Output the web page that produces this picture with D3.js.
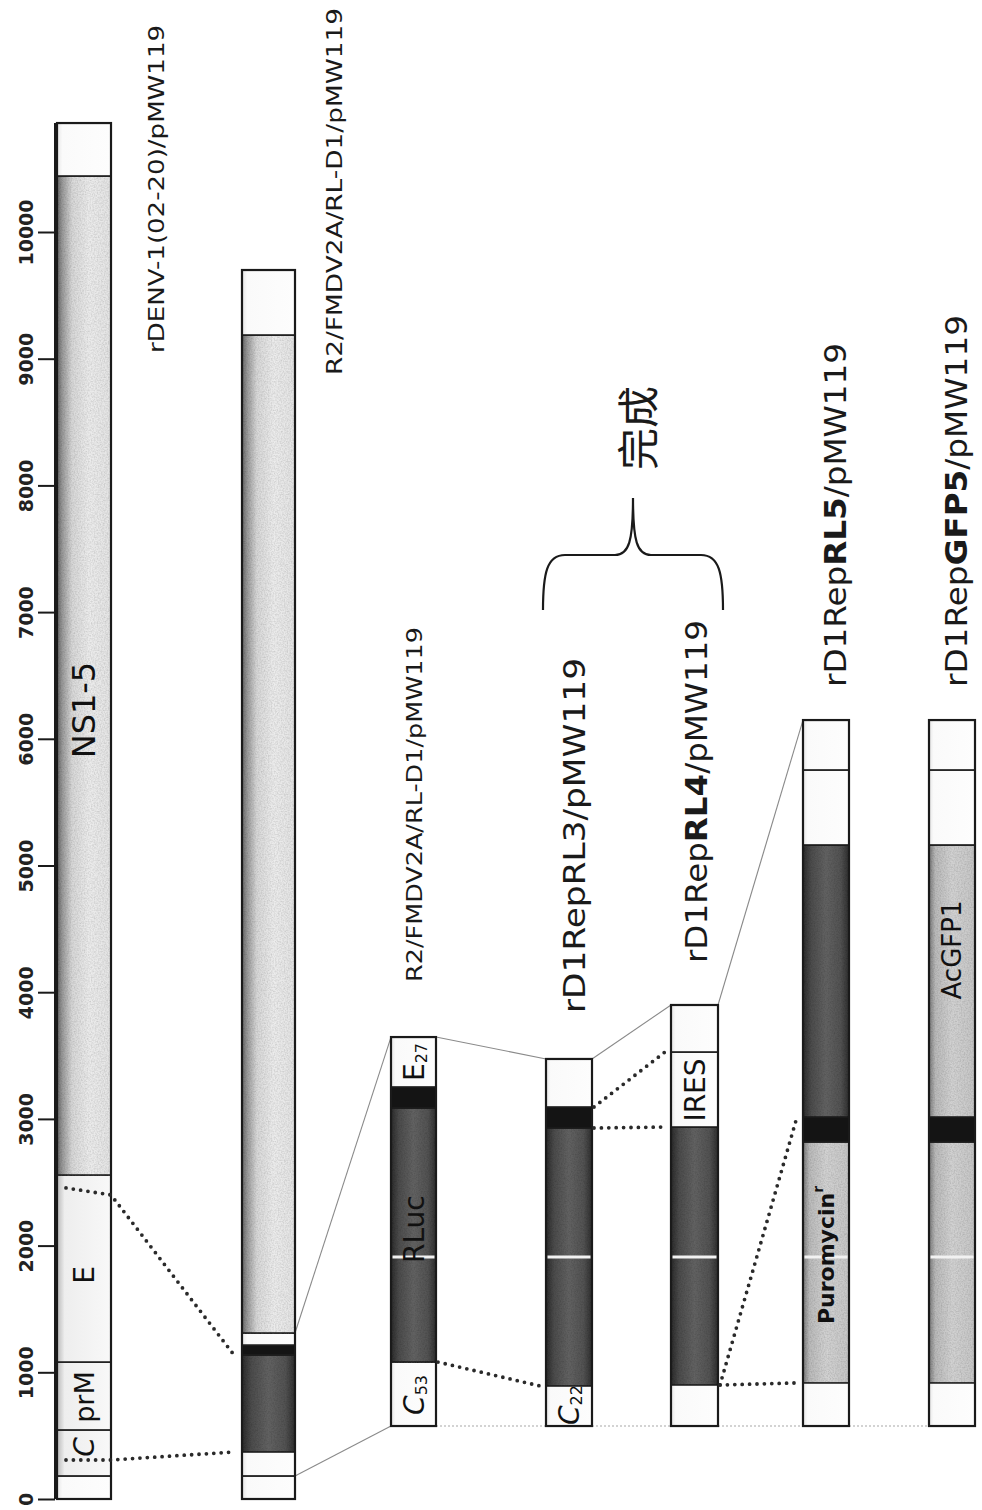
<!DOCTYPE html>
<html>
<head>
<meta charset="utf-8">
<script src="https://cdn.jsdelivr.net/npm/d3@7"></script>
<style>
  body { margin: 0; background: #fff; }
</style>
</head>
<body>
<svg id="chart" width="982" height="1510"></svg>
<script>
// genome coordinate ticks (nt)
const ticks = d3.range(0, 10001, 1000);

// constructs, left to right
const constructs = ["denv", "r2", "r2b", "rl3", "rl4", "rl5", "gfp5"];
const constructNames = [
  "rDENV-1(02-20)/pMW119",
  "R2/FMDV2A/RL-D1/pMW119",
  "R2/FMDV2A/RL-D1/pMW119",
  "rD1RepRL3/pMW119",
  "rD1RepRL4/pMW119",
  "rD1RepRL5/pMW119",
  "rD1RepGFP5/pMW119"
];
const boldParts = ["", "", "", "", "RL4", "RL5", "GFP5"];

// segment boundaries (nt) and the kind of each segment, bottom -> top
const denvBounds = [0, 182, 545, 1081, 2557, 10442, 10860];
const denvParts  = ["white", "light", "light", "light", "ns", "white"];
const r2Bounds   = [0, 182, 371, 1137, 1215, 1310, 9187, 9700];
const r2Parts    = ["white", "white", "dark", "black", "white", "ns", "white"];
const r2bBounds  = [576, 1081, 3086, 3252, 3646];
const r2bParts   = ["white", "dark", "black", "white"];
const rl3Bounds  = [576, 892, 2928, 3094, 3473];
const rl3Parts   = ["white", "dark", "black", "white"];
const rl4Bounds  = [576, 900, 2936, 3528, 3899];
const rl4Parts   = ["white", "dark", "white", "white"];
const rl5Bounds  = [576, 916, 2818, 3015, 5162, 5754, 6148];
const rl5Parts   = ["white", "gray", "black", "dark", "white", "white"];
const gfp5Bounds = [576, 916, 2818, 3015, 5162, 5754, 6148];
const gfp5Parts  = ["white", "gray", "black", "gray", "white", "white"];

// text inside the bars: construct, position (nt), text, subscript
const innerLabels = [
  ["denv", 6227, "NS1-5", ""],
  ["denv", 1768, "E", ""],
  ["denv", 805, "prM", ""],
  ["denv", 410, "C", ""],
  ["r2b", 3449, "E", "27"],
  ["r2b", 2130, "RLuc", ""],
  ["r2b", 821, "C", "53"],
  ["rl3", 742, "C", "22"],
  ["rl4", 3228, "IRES", ""],
  ["rl5", 1926, "Puromycin", "r"],
  ["gfp5", 4333, "AcGFP1", ""]
];

// white seams across the reporter bars (nt)
const seamAt = 1910;
const seamBars = ["r2b", "rl3", "rl4", "rl5", "gfp5"];

// links between bars: [from, nt, to, nt]
const thinLinks = [
  ["r2", 1310, "r2b", 3646],
  ["r2", 182, "r2b", 576],
  ["r2b", 3646, "rl3", 3473],
  ["rl3", 3473, "rl4", 3899],
  ["rl4", 3899, "rl5", 6148]
];
const baseLinks = [
  ["r2b", 576, "rl3", 576],
  ["rl3", 576, "rl4", 576],
  ["rl4", 576, "rl5", 576],
  ["rl5", 576, "gfp5", 576]
];
const dotLinks = [
  ["r2b", 1081, "rl3", 892],
  ["rl3", 3094, "rl4", 3528],
  ["rl3", 2928, "rl4", 2936],
  ["rl4", 900, "rl5", 3015],
  ["rl4", 900, "rl5", 916]
];
// dotted lines starting inside the DENV bar: [inside nt, edge nt, r2 nt]
const denvLinks = [
  [2455, 2400, 1137],
  [308, 308, 371]
];

const boundsOf = {denv: denvBounds, r2: r2Bounds, r2b: r2bBounds, rl3: rl3Bounds,
                  rl4: rl4Bounds, rl5: rl5Bounds, gfp5: gfp5Bounds};
const partsOf  = {denv: denvParts, r2: r2Parts, r2b: r2bParts, rl3: rl3Parts,
                  rl4: rl4Parts, rl5: rl5Parts, gfp5: gfp5Parts};

const svg = d3.select("#chart");

const y = d3.scaleLinear().domain([0, 10000]).range([1499, 232]);
const colX = d3.scaleOrdinal().domain(constructs).range([57, 242, 391, 546, 671, 803, 929]);
const colW = d3.scaleOrdinal().domain(constructs).range([54, 53, 45, 46, 47, 46, 46]);

// fills
const defs = svg.append("defs");
function grad(id, stops){
  const g = defs.append("linearGradient").attr("id", id)
    .attr("x1", 0).attr("x2", 1).attr("y1", 0).attr("y2", 0);
  stops.forEach(s => g.append("stop").attr("offset", s[0]).attr("stop-color", s[1]));
}
grad("g-ns",    [[0, "#666666"], [0.1, "#9a9a9a"], [0.28, "#d8d8d8"], [0.6, "#ececec"], [1, "#e4e4e4"]]);
grad("g-light", [[0, "#b8b8b8"], [0.14, "#eeeeee"], [1, "#f8f8f8"]]);
grad("g-white", [[0, "#e6e6e6"], [0.1, "#fafafa"], [1, "#fdfdfd"]]);
grad("g-dark",  [[0, "#2a2a2a"], [0.18, "#4c4c4c"], [0.5, "#626262"], [0.82, "#525252"], [1, "#2e2e2e"]]);
grad("g-gray",  [[0, "#7a7a7a"], [0.14, "#bababa"], [0.5, "#d2d2d2"], [1, "#c6c6c6"]]);
const fillOf = {ns: "url(#g-ns)", light: "url(#g-light)", white: "url(#g-white)",
                dark: "url(#g-dark)", gray: "url(#g-gray)", black: "#141414"};

// grain
const f = defs.append("filter").attr("id", "grain").attr("x", 0).attr("y", 0)
  .attr("width", 1).attr("height", 1);
f.append("feTurbulence").attr("type", "fractalNoise").attr("baseFrequency", 0.7)
  .attr("numOctaves", 2).attr("seed", 3).attr("result", "n");
f.append("feColorMatrix").attr("in", "n").attr("type", "matrix")
  .attr("values", "0 0 0 0 0.45  0 0 0 0 0.45  0 0 0 0 0.45  0.9 0 0 0 -0.3").attr("result", "na");
f.append("feComposite").attr("in", "na").attr("in2", "SourceGraphic").attr("operator", "in").attr("result", "nc");
f.append("feBlend").attr("in", "nc").attr("in2", "SourceGraphic").attr("mode", "multiply");

// axis
const axis = d3.axisLeft(y).tickValues(ticks).tickSize(17).tickSizeOuter(0).tickFormat(d3.format("d"));
const gAxis = svg.append("g").attr("transform", "translate(55,0)").call(axis);
gAxis.select(".domain").remove();
gAxis.append("line").attr("y1", y(0)).attr("y2", y(denvBounds[denvBounds.length - 1]))
  .attr("stroke", "#1a1a1a").attr("stroke-width", 2);
gAxis.selectAll(".tick line").attr("stroke", "#1a1a1a").attr("stroke-width", 2);
gAxis.selectAll(".tick text")
  .attr("transform", "rotate(-90)")
  .attr("x", 0).attr("y", -22).attr("dy", 0)
  .attr("text-anchor", "middle")
  .attr("fill", "#222")
  .style("font-family", "DejaVu Sans")
  .style("font-size", "19px")
  .style("font-weight", "bold");

// thin connector lines (drawn under the bars)
const gLinks = svg.append("g");
gLinks.selectAll("line.thin").data(thinLinks).join("line").attr("class", "thin")
  .attr("x1", d => colX(d[0]) + colW(d[0])).attr("y1", d => y(d[1]))
  .attr("x2", d => colX(d[2])).attr("y2", d => y(d[3]))
  .attr("stroke", "#8a8a8a").attr("stroke-width", 1.1);
gLinks.selectAll("line.base").data(baseLinks).join("line").attr("class", "base")
  .attr("x1", d => colX(d[0]) + colW(d[0])).attr("y1", d => y(d[1]))
  .attr("x2", d => colX(d[2])).attr("y2", d => y(d[3]))
  .attr("stroke", "#a8a8a8").attr("stroke-width", 1.2).attr("stroke-dasharray", "2,2");

// bars
constructs.forEach(c => {
  const b = boundsOf[c], p = partsOf[c];
  const g = svg.append("g").attr("class", "bar " + c);
  g.selectAll("rect.seg").data(p).join("rect").attr("class", "seg")
    .attr("x", colX(c)).attr("width", colW(c))
    .attr("y", (d, i) => y(b[i + 1]))
    .attr("height", (d, i) => y(b[i]) - y(b[i + 1]))
    .attr("fill", d => fillOf[d])
    .attr("filter", d => (d === "dark" || d === "gray" || d === "ns") ? "url(#grain)" : null)
    .attr("stroke", "#1c1c1c").attr("stroke-width", 1.6);
  g.append("rect")
    .attr("x", colX(c)).attr("width", colW(c))
    .attr("y", y(b[b.length - 1])).attr("height", y(b[0]) - y(b[b.length - 1]))
    .attr("fill", "none").attr("stroke", "#1a1a1a").attr("stroke-width", 2.2);
});

// seams
svg.selectAll("rect.seam").data(seamBars).join("rect").attr("class", "seam")
  .attr("x", d => colX(d) + 1.5).attr("width", d => colW(d) - 3)
  .attr("y", y(seamAt) - 1.5).attr("height", 3)
  .attr("fill", "#f2f2f2");

// dotted links
const dotted = sel => sel.attr("fill", "none").attr("stroke", "#2a2a2a")
  .attr("stroke-width", 3.8).attr("stroke-linecap", "round").attr("stroke-dasharray", "0,7.4");
svg.selectAll("path.dl").data(dotLinks).join("path").attr("class", "dl")
  .attr("d", d => d3.line()([[colX(d[0]) + colW(d[0]) + 2, y(d[1])], [colX(d[2]) - 6, y(d[3])]]))
  .call(dotted);
svg.selectAll("path.denvl").data(denvLinks).join("path").attr("class", "denvl")
  .attr("d", d => d3.line()([
    [colX("denv") + 9, y(d[0])],
    [colX("denv") + colW("denv"), y(d[1])],
    [colX("r2") - 8, y(d[2])]
  ]))
  .call(dotted);

// labels inside the bars
const innerSize = {"NS1-5": 32, "E": 28, "prM": 27, "C": 28, "RLuc": 28, "IRES": 28,
                   "Puromycin": 22, "AcGFP1": 26};
const inner = svg.selectAll("text.inner").data(innerLabels).join("text").attr("class", "inner")
  .attr("transform", d => `translate(${colX(d[0]) + colW(d[0]) / 2},${y(d[1])}) rotate(-90)`)
  .attr("text-anchor", "middle")
  .attr("dominant-baseline", "central")
  .attr("fill", "#111")
  .style("font-family", "DejaVu Sans")
  .style("font-size", d => innerSize[d[2]] + "px")
  .style("font-weight", d => d[2] === "Puromycin" ? "bold" : "normal");
inner.append("tspan")
  .style("font-style", d => d[2] === "C" ? "italic" : "normal")
  .text(d => d[2]);
inner.filter(d => d[3] !== "").append("tspan")
  .attr("dy", d => d[3] === "r" ? -8 : 7)
  .style("font-size", d => d[3] === "r" ? "14px" : "16px")
  .text(d => d[3]);

// construct names (rotated, reading upward)
const nameLayout = [
  // baseline x, start y, length, font size
  [164, 353, 328, 22],
  [342, 375, 367, 22],
  [422, 982, 355, 21],
  [585, 1013, 355, 31],
  [707, 963, 343, 31],
  [846, 687, 344, 31],
  [967, 687, 372, 31]
];
constructNames.forEach((name, i) => {
  const L = nameLayout[i];
  const t = svg.append("text")
    .attr("transform", `translate(${L[0]},${L[1]}) rotate(-90)`)
    .attr("text-anchor", "start")
    .attr("textLength", L[2]).attr("lengthAdjust", "spacingAndGlyphs")
    .attr("fill", "#1a1a1a")
    .style("font-family", "DejaVu Sans")
    .style("font-size", L[3] + "px");
  const bp = boldParts[i];
  if (bp) {
    const k = name.indexOf(bp);
    t.append("tspan").text(name.slice(0, k));
    t.append("tspan").style("font-weight", "bold").text(bp);
    t.append("tspan").text(name.slice(k + bp.length));
  } else {
    t.text(name);
  }
});

// brace over the two finished constructs
const bx0 = colX("rl3") - 3, bx1 = colX("rl4") + colW("rl4") + 5;
const bm = (bx0 + bx1) / 2, by0 = 610, by1 = 555, byTip = 498;
svg.append("path")
  .attr("d", `M${bx0},${by0} C${bx0},${by1 + 18} ${bx0 + 4},${by1} ${bx0 + 22},${by1}
              L${bm - 18},${by1} C${bm - 4},${by1} ${bm},${by1 - 14} ${bm},${byTip}
              C${bm},${by1 - 14} ${bm + 4},${by1} ${bm + 18},${by1}
              L${bx1 - 22},${by1} C${bx1 - 4},${by1} ${bx1},${by1 + 18} ${bx1},${by0}`)
  .attr("fill", "none").attr("stroke", "#1a1a1a").attr("stroke-width", 2.2);
svg.append("text")
  .attr("transform", `translate(${bm + 2},${428}) rotate(-90)`)
  .attr("text-anchor", "middle").attr("dominant-baseline", "central")
  .attr("fill", "#1a1a1a")
  .style("font-family", "Noto Sans CJK SC")
  .style("font-size", "42px")
  .text("完成");
</script>
</body>
</html>
